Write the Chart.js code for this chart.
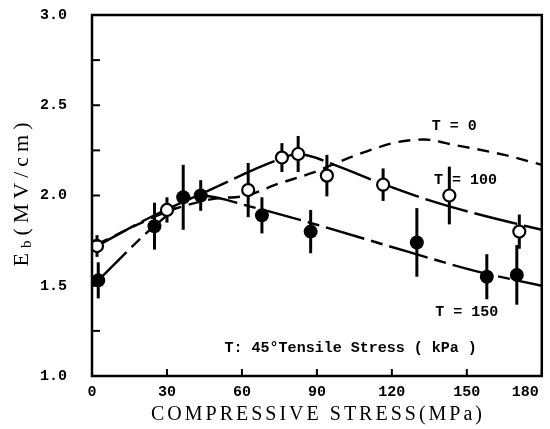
<!DOCTYPE html>
<html>
<head>
<meta charset="utf-8">
<script src="https://cdn.jsdelivr.net/npm/chart.js@4"></script>
<style>
  html, body { margin: 0; padding: 0; background: #fff; }
  #wrap { width: 550px; height: 429px; }
</style>
</head>
<body>
<div id="wrap"><canvas id="chart"></canvas></div>
<script>
// T = 100 (open circles)
const stress100 = [2, 30, 62.5, 76, 82.5, 94, 116.5, 143, 171];
const eb100 = [1.72, 1.92, 2.03, 2.21, 2.23, 2.11, 2.06, 2.0, 1.80];
const err100 = [0.06, 0.07, 0.15, 0.08, 0.10, 0.115, 0.09, 0.16, 0.095];

// T = 150 (filled circles)
const stress150 = [2.5, 25, 36.5, 43.5, 68, 87.5, 130, 158, 170];
const eb150 = [1.53, 1.83, 1.99, 2.0, 1.89, 1.80, 1.74, 1.55, 1.56];
const err150 = [0.10, 0.13, 0.18, 0.085, 0.10, 0.12, 0.19, 0.125, 0.165];

// hand drawn trend curves
const curveX0 = [2, 30, 48, 62, 73.5, 88, 105, 122, 133, 145, 165, 180];
const curveY0 = [1.73, 1.91, 1.98, 2.0, 2.06, 2.125, 2.22, 2.295, 2.31, 2.28, 2.225, 2.17];
const curveX100 = [2, 22, 47, 73, 82.5, 97, 111.5, 138, 162, 180];
const curveY100 = [1.72, 1.87, 2.03, 2.19, 2.23, 2.17, 2.09, 1.96, 1.87, 1.81];
const curveX150 = [2.5, 25, 43.5, 63, 92, 126, 154, 180];
const curveY150 = [1.53, 1.83, 2.0, 1.94, 1.83, 1.69, 1.58, 1.5];

// curve labels, [x, y] in data units
const labels = [
  ["T = 0", 145, 2.386],
  ["T = 100", 149.5, 2.087],
  ["T = 150", 150, 1.351],
  ["T: 45\u00b0Tensile Stress ( kPa )", 103.5, 1.154]
];

const monoFont = "bold 15px 'Liberation Mono', monospace";
const toXY = (xs, ys) => xs.map((x, i) => ({ x: x, y: ys[i] }));

const errorBars = {
  id: "errorBars",
  beforeDatasetsDraw(chart) {
    const { ctx } = chart;
    const x = chart.scales.x, y = chart.scales.y;
    ctx.save();
    ctx.strokeStyle = "#000";
    ctx.lineWidth = 3;
    chart.data.datasets.forEach(ds => {
      if (!ds.errors) return;
      ds.data.forEach((p, i) => {
        const px = x.getPixelForValue(p.x);
        ctx.beginPath();
        ctx.moveTo(px, y.getPixelForValue(p.y + ds.errors[i]));
        ctx.lineTo(px, y.getPixelForValue(p.y - ds.errors[i]));
        ctx.stroke();
      });
    });
    ctx.restore();
  }
};

const frame = {
  id: "frame",
  afterDraw(chart) {
    const { ctx, chartArea: a } = chart;
    const x = chart.scales.x, y = chart.scales.y;
    ctx.save();
    ctx.strokeStyle = "#000";
    ctx.lineWidth = 2.5;
    ctx.strokeRect(a.left, a.top, a.right - a.left, a.bottom - a.top);
    // inward tick marks
    ctx.lineWidth = 2;
    y.ticks.forEach(t => {
      const py = y.getPixelForValue(t.value);
      ctx.beginPath(); ctx.moveTo(a.left, py); ctx.lineTo(a.left + 8, py); ctx.stroke();
    });
    ctx.fillStyle = "#000";
    ctx.font = monoFont;
    ctx.textBaseline = "middle";
    x.ticks.forEach((t, i) => {
      const px = x.getPixelForValue(t.value);
      ctx.beginPath(); ctx.moveTo(px, a.bottom); ctx.lineTo(px, a.bottom - 7); ctx.stroke();
      const last = i === x.ticks.length - 1;
      ctx.textAlign = last ? "right" : "center";
      ctx.fillText(String(t.value), last ? px - 3 : px, a.bottom + 16);
    });
    // curve labels
    ctx.textAlign = "center";
    labels.forEach(l => ctx.fillText(l[0], x.getPixelForValue(l[1]), y.getPixelForValue(l[2])));
    // axis titles
    ctx.font = "20px 'Liberation Serif', serif";
    ctx.letterSpacing = "3px";
    ctx.fillText("COMPRESSIVE STRESS(MPa)", 318, 415);
    ctx.translate(22, 192);
    ctx.rotate(-Math.PI / 2);
    ctx.textAlign = "left";
    ctx.letterSpacing = "5px";
    ctx.font = "22px 'Liberation Serif', serif";
    const w1 = ctx.measureText("E").width;
    ctx.font = "15px 'Liberation Serif', serif";
    const w2 = ctx.measureText("b").width;
    ctx.font = "22px 'Liberation Serif', serif";
    const w3 = ctx.measureText("(MV/cm)").width;
    let sx = -(w1 + w2 + w3) / 2;
    ctx.fillText("E", sx, 0);
    ctx.font = "15px 'Liberation Serif', serif";
    ctx.fillText("b", sx + w1, 5);
    ctx.font = "22px 'Liberation Serif', serif";
    ctx.fillText("(MV/cm)", sx + w1 + w2, 0);
    ctx.restore();
  }
};

const lineStyle = {
  showLine: true,
  pointRadius: 0,
  borderColor: "#000",
  borderWidth: 2.4,
  cubicInterpolationMode: "monotone",
  order: 2
};

new Chart(document.getElementById("chart"), {
  type: "scatter",
  data: {
    datasets: [
      {
        label: "T = 100",
        data: toXY(stress100, eb100),
        errors: err100,
        pointRadius: 6,
        pointBorderWidth: 2.2,
        pointBackgroundColor: "#fff",
        pointBorderColor: "#000",
        order: 1
      },
      {
        label: "T = 150",
        data: toXY(stress150, eb150),
        errors: err150,
        pointRadius: 7,
        pointBorderWidth: 0,
        pointBackgroundColor: "#000",
        pointBorderColor: "#000",
        order: 1
      },
      Object.assign({ label: "fit T = 0", data: toXY(curveX0, curveY0), borderDash: [12, 8] }, lineStyle),
      Object.assign({ label: "fit T = 100", data: toXY(curveX100, curveY100), borderDash: [44, 7] }, lineStyle),
      Object.assign({ label: "fit T = 150", data: toXY(curveX150, curveY150), borderDash: [40, 7, 12, 7] }, lineStyle)
    ]
  },
  options: {
    responsive: true,
    maintainAspectRatio: false,
    animation: false,
    layout: { padding: { top: 15, right: 5, left: 0, bottom: 0 } },
    plugins: { legend: { display: false }, tooltip: { enabled: false } },
    scales: {
      x: {
        type: "linear",
        min: 0,
        max: 180,
        grid: { display: false, drawTicks: false },
        border: { display: false },
        ticks: { stepSize: 30, display: false },
        afterFit: s => { s.height = 53; s.paddingLeft = 0; s.paddingRight = 0; }
      },
      y: {
        min: 1,
        max: 3,
        grid: { display: false, drawTicks: false },
        border: { display: false },
        ticks: {
          stepSize: 0.25,
          padding: 25,
          color: "#000",
          font: { family: "'Liberation Mono', monospace", weight: "bold", size: 15 },
          autoSkip: false,
          callback: v => (Math.abs(v * 2 - Math.round(v * 2)) < 1e-6 ? v.toFixed(1) : "")
        },
        afterFit: s => { s.width = 92; s.paddingTop = 0; s.paddingBottom = 0; }
      }
    }
  },
  plugins: [errorBars, frame]
});
</script>
</body>
</html>
